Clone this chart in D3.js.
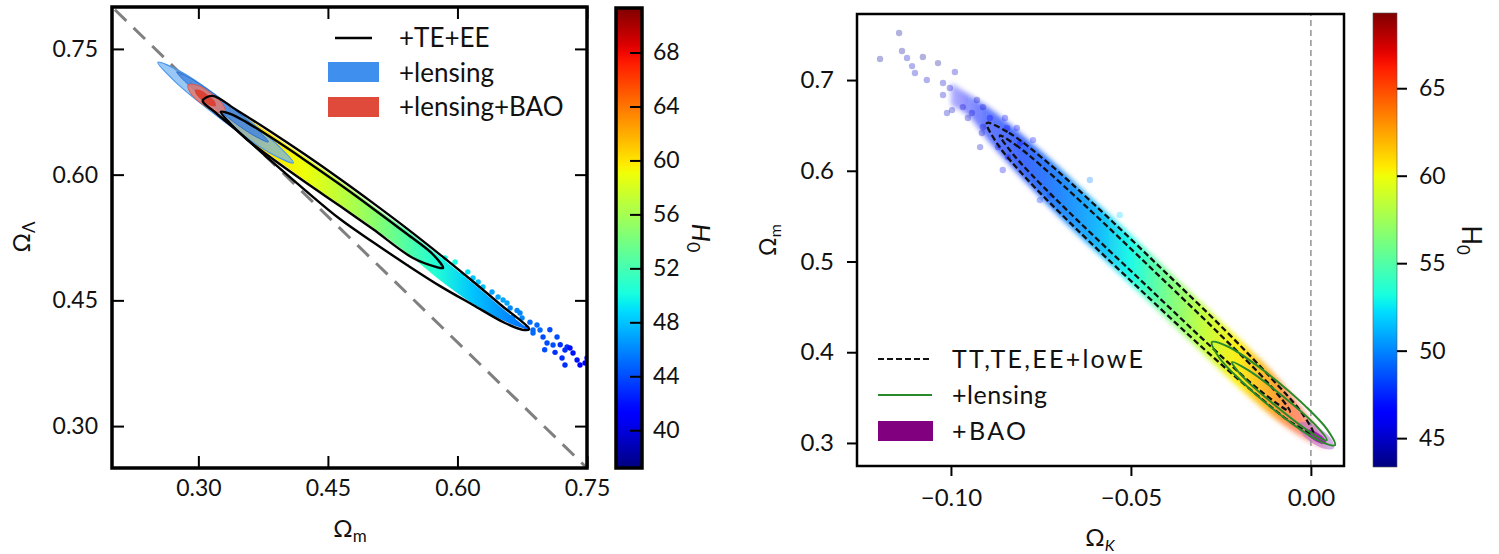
<!DOCTYPE html>
<html><head><meta charset="utf-8">
<script src="https://cdn.jsdelivr.net/npm/d3@7"></script>
<style>
body{margin:0;background:#fff}
svg{display:block}
text{font-family:Lato,"DejaVu Sans",sans-serif;fill:#111}
</style>
</head><body>
<svg id="chart" width="1499" height="554"></svg>
<script>
// ================= DATA =================
// ---- left panel ----
const leftXTicks = [0.30, 0.45, 0.60, 0.75];
const leftYTicks = [0.30, 0.45, 0.60, 0.75];
const leftCbarTicks = [40, 44, 48, 52, 56, 60, 64, 68];
const leftLegend = ["+TE+EE", "+lensing", "+lensing+BAO"];
const flatLine = [[0.20, 0.80], [0.75, 0.25]];   // Omega_L = 1 - Omega_m

// +TE+EE contours (Omega_m, Omega_L)
const teeeOuter95 = [[0.305,0.688],[0.316,0.694],[0.345,0.6766],[0.383,0.6517],[0.4235,0.6239],[0.464,0.5948],[0.502,0.5663],[0.5416,0.5356],[0.5798,0.5046],[0.618,0.4725],[0.6493,0.4454],[0.6829,0.4154],[0.675,0.415],[0.655,0.423],[0.618,0.4445],[0.580,0.467],[0.542,0.492],[0.502,0.5196],[0.464,0.547],[0.4235,0.5815],[0.383,0.6175],[0.348,0.6497],[0.319,0.6747]];
const teeeInner68 = [[0.326,0.675],[0.337,0.6725],[0.355,0.663],[0.383,0.6451],[0.4235,0.6173],[0.464,0.5882],[0.502,0.5597],[0.5416,0.5291],[0.5717,0.5047],[0.5833,0.4886],[0.575,0.490],[0.5485,0.5005],[0.502,0.5351],[0.464,0.5626],[0.4235,0.5912],[0.383,0.621],[0.355,0.643],[0.337,0.661]];
// +lensing and +lensing+BAO filled contours
const lensOuter95 = [[0.253,0.734],[0.281,0.722],[0.337,0.682],[0.390,0.637],[0.410,0.614],[0.382,0.6265],[0.326,0.6665],[0.273,0.711]];
const lensInner68 = [[0.275,0.7225],[0.294,0.713],[0.332,0.6855],[0.367,0.655],[0.381,0.639],[0.362,0.648],[0.3245,0.676],[0.289,0.7066]];
const baoOuter95 = [[0.288,0.707],[0.298,0.707],[0.314,0.6976],[0.328,0.6844],[0.331,0.6747],[0.321,0.6747],[0.3047,0.684],[0.291,0.697]];
const baoInner68 = [[0.296,0.701],[0.302,0.701],[0.311,0.695],[0.319,0.6875],[0.320,0.682],[0.315,0.682],[0.3055,0.6876],[0.298,0.695]];
// dense sample band coloured by H0
const leftBandOm    = [0.335, 0.36, 0.383, 0.4235, 0.464, 0.502, 0.542, 0.575, 0.618, 0.649, 0.672, 0.683];
const leftBandUpper = [0.682, 0.665, 0.649, 0.621, 0.592, 0.563, 0.533, 0.506, 0.470, 0.443, 0.424, 0.4154];
const leftBandLower = [0.666, 0.640, 0.623, 0.593, 0.564, 0.537, 0.506, 0.478, 0.446, 0.428, 0.418, 0.4154];
const leftBandH0    = [62, 61, 60, 59, 57, 55, 52.5, 50.5, 48, 46.5, 45.5, 45];
// sparse samples in the tail
const leftPtsM = [0.5856,0.5972,0.618,0.6296,0.6528,0.6574,0.6643,0.6724,0.6748,0.6805,0.6875,0.6875,0.6921,0.6956,0.6991,0.7037,0.7107,0.7153,0.7211,0.7245,0.7245,0.7269,0.7303,0.7338,0.7385,0.7419,0.7477,0.750,0.647,0.640,0.624,0.605,0.612,0.707,0.701,0.713,0.719,0.684,0.669,0.661];
const leftPtsL = [0.5006,0.4958,0.4767,0.466,0.4504,0.4469,0.4302,0.4349,0.429,0.417,0.4147,0.4111,0.4206,0.4147,0.4063,0.3991,0.3968,0.4063,0.3812,0.3908,0.3729,0.3944,0.3932,0.3872,0.3789,0.3729,0.3753,0.3812,0.454,0.46,0.472,0.48,0.484,0.415,0.391,0.388,0.397,0.424,0.438,0.441];
const leftPtsH0 = [50,50,48,48,47,47,46,46,46,45,45,45,45,45,44,44,44,44,43,43,43,43,42,42,42,41,41,41,47,47,48,49,49,44,44,43,43,45,46,46];

// ---- right panel ----
const rightXTicks = [-0.10, -0.05, 0.00];
const rightYTicks = [0.3, 0.4, 0.5, 0.6, 0.7];
const rightCbarTicks = [45, 50, 55, 60, 65];
const rightLegend = ["TT,TE,EE+lowE", "+lensing", "+BAO"];
const flatK = [[0, 0.2746], [0, 0.7728]];   // Omega_K = 0

const ttOuter95 = [[-0.090,0.6526],[-0.0839,0.6419],[-0.0739,0.6117],[-0.0600,0.5621],[-0.0419,0.4937],[-0.0239,0.4245],[-0.0109,0.3709],[-0.0026,0.3335],[0.0006,0.3108],[-0.0053,0.3223],[-0.0151,0.3533],[-0.0293,0.4022],[-0.0476,0.4697],[-0.0657,0.538],[-0.0789,0.591],[-0.087,0.6291]];
const ttInner68 = [[-0.0864,0.6389],[-0.082,0.6284],[-0.0752,0.6065],[-0.0613,0.5564],[-0.0432,0.4881],[-0.0252,0.4193],[-0.012,0.3665],[-0.0058,0.3347],[-0.0141,0.3577],[-0.0281,0.4074],[-0.0462,0.4753],[-0.0644,0.5437],[-0.0777,0.5961],[-0.0835,0.622]];
const lensROuter = [[-0.0275,0.4111],[-0.0228,0.4058],[-0.0153,0.3863],[-0.0083,0.3645],[-0.0016,0.3409],[0.0045,0.315],[0.0067,0.2976],[0.002,0.3029],[-0.0056,0.3224],[-0.0126,0.3442],[-0.0192,0.3678],[-0.0254,0.3937]];
const lensRInner = [[-0.0219,0.3891],[-0.0172,0.3798],[-0.0077,0.3512],[0.0013,0.3196],[0.0044,0.3031],[-0.0003,0.3123],[-0.0098,0.341],[-0.0188,0.3725]];
const baoROuter = [[-0.0036,0.3218],[-0.0012,0.3228],[0.0027,0.3153],[0.0058,0.3035],[0.0064,0.2943],[0.004,0.2933],[0.0001,0.3008],[-0.003,0.3126]];
const baoRInner = [[-0.0014,0.3141],[-0.0001,0.3147],[0.002,0.3107],[0.0038,0.3046],[0.0042,0.2998],[0.0029,0.2992],[0.0008,0.3032],[-0.001,0.3093]];

const rightBandOk      = [-0.100, -0.095, -0.09, -0.08, -0.07, -0.06, -0.05, -0.04, -0.03, -0.02, -0.01, -0.005, 0.0, 0.004];
const rightBandUpper   = [0.697, 0.684, 0.671, 0.639, 0.604, 0.566, 0.529, 0.491, 0.453, 0.415, 0.375, 0.351, 0.325, 0.302];
const rightBandLower   = [0.672, 0.660, 0.635, 0.591, 0.550, 0.512, 0.475, 0.437, 0.399, 0.361, 0.327, 0.313, 0.301, 0.294];
const rightBandH0      = [46.5, 47, 47.5, 48, 49.5, 51, 53, 56, 58.5, 60.5, 63, 65, 66, 66];
const rightBandDensity = [0.3, 0.45, 0.6, 0.75, 0.85, 0.9, 0.95, 0.95, 0.95, 0.9, 0.8, 0.6, 0.45, 0.3];

const rightPtsK = [-0.1197,-0.1144,-0.1136,-0.1122,-0.1108,-0.1078,-0.1100,-0.1067,-0.1036,-0.1022,-0.1022,-0.0989,-0.1003,-0.0967,-0.0942,-0.0928,-0.0911,-0.0892,-0.0850,-0.1011,-0.0997,-0.0844,-0.0817,-0.0808,-0.0772,-0.0856,-0.0842,-0.0869,-0.0911,-0.0953,-0.0914,-0.0919,-0.0725,-0.0753,-0.0614,-0.0531];
const rightPtsM = [0.7232,0.7518,0.732,0.7243,0.7154,0.7254,0.7077,0.700,0.7187,0.6967,0.6835,0.7088,0.6912,0.6702,0.6636,0.678,0.6702,0.6581,0.6581,0.6636,0.6669,0.6471,0.6471,0.6305,0.6338,0.6008,0.6151,0.6261,0.6482,0.6581,0.6416,0.6261,0.5732,0.5677,0.5898,0.5512];
const rightPtsH0 = [44,44,44,45,45,44,45,45,44,45,45,45,45,45,45,45,45,46,46,45,45,46,46,46,47,46,46,46,45,45,45,45,48,48,50,52];

// ================= HELPERS =================
function pw(stops, t) {
  for (let i = 1; i < stops.length; i++) {
    if (t <= stops[i][0]) {
      const [t0, v0] = stops[i-1], [t1, v1] = stops[i];
      return v0 + (v1 - v0) * (t - t0) / (t1 - t0);
    }
  }
  return stops[stops.length-1][1];
}
function jet(t) {
  t = Math.max(0, Math.min(1, t));
  const r = pw([[0,0],[0.35,0],[0.66,1],[0.89,1],[1,0.5]], t);
  const g = pw([[0,0],[0.125,0],[0.375,1],[0.64,1],[0.91,0],[1,0]], t);
  const b = pw([[0,0.5],[0.11,1],[0.34,1],[0.65,0],[1,0]], t);
  return d3.rgb(r*255, g*255, b*255).formatHex();
}

const svg = d3.select("#chart");
const defs = svg.append("defs");

function hGrad(id, x1, x2, stops) {
  const g = defs.append("linearGradient").attr("id", id)
    .attr("gradientUnits", "userSpaceOnUse")
    .attr("x1", x1).attr("x2", x2).attr("y1", 0).attr("y2", 0);
  stops.forEach(s => g.append("stop").attr("offset", s.o).attr("stop-color", s.c).attr("stop-opacity", s.a));
}
function vGrad(id, yBottom, yTop, cmap) {
  const g = defs.append("linearGradient").attr("id", id)
    .attr("gradientUnits", "userSpaceOnUse")
    .attr("x1", 0).attr("x2", 0).attr("y1", yBottom).attr("y2", yTop);
  d3.range(0, 1.0001, 0.02).forEach(t => g.append("stop").attr("offset", t).attr("stop-color", cmap(t)));
}
function sub(t, main, s, size, italic) {
  t.append("tspan").text(main);
  t.append("tspan").attr("font-size", size).attr("dy", "0.3em").attr("font-style", italic ? "italic" : "normal").text(s);
  return t;
}
function styleAxis(g) { g.select(".domain").remove(); g.selectAll(".tick line").attr("stroke", "#000").attr("stroke-width", 2); }

// ================= LEFT PANEL =================
const L = {x0: 112, x1: 587, y0: 7, y1: 468};
const xL = d3.scaleLinear().domain([0.20, 0.75]).range([L.x0, L.x1]);
const yL = d3.scaleLinear().domain([0.25, 0.80]).range([L.y1, L.y0]);
const cLdom = [37.2, 71.3];
const cL = d3.scaleLinear().domain(cLdom).range([468, 8]);
const colL = h => jet((h - cLdom[0]) / (cLdom[1] - cLdom[0]));

defs.append("clipPath").attr("id", "clipL").append("rect")
  .attr("x", L.x0).attr("y", L.y0).attr("width", L.x1 - L.x0).attr("height", L.y1 - L.y0);

const gL = svg.append("g").attr("clip-path", "url(#clipL)");
const lineL = d3.line().x(d => xL(d[0])).y(d => yL(d[1]));
const closedL = d3.line().x(d => xL(d[0])).y(d => yL(d[1])).curve(d3.curveCatmullRomClosed.alpha(0.5));

// flat line (under the filled contour)
gL.append("path").attr("d", lineL(flatLine)).attr("fill", "none")
  .attr("stroke", "#808080").attr("stroke-width", 3).attr("stroke-dasharray", "16,10").attr("stroke-dashoffset", -4);
// white interior of TE+EE region
gL.append("path").attr("d", closedL(teeeOuter95)).attr("fill", "#fff");

// band
const bandL = leftBandOm.map((m, i) => ({m, up: leftBandUpper[i], lo: leftBandLower[i], h: leftBandH0[i]}));
const bx0 = xL(leftBandOm[0]), bx1 = xL(leftBandOm[leftBandOm.length-1]);
hGrad("gradBandL", bx0, bx1, bandL.map(d => ({o: (xL(d.m) - bx0) / (bx1 - bx0), c: colL(d.h), a: 1})));
gL.append("path")
  .attr("d", d3.area().x(d => xL(d.m)).y0(d => yL(d.lo)).y1(d => yL(d.up)).curve(d3.curveMonotoneX)(bandL))
  .attr("fill", "url(#gradBandL)");

// tail points
gL.append("g").selectAll("circle").data(leftPtsM.map((m, i) => [m, leftPtsL[i], leftPtsH0[i]]))
  .join("circle").attr("cx", d => xL(d[0])).attr("cy", d => yL(d[1])).attr("r", 2.7)
  .attr("fill", d => colL(d[2]));

// lensing contours (blue) and lensing+BAO (red)
gL.append("path").attr("d", closedL(lensOuter95)).attr("fill", "#6fb0f2").attr("fill-opacity", 0.7)
  .attr("stroke", "#4d97ea").attr("stroke-width", 1.2);
gL.append("path").attr("d", closedL(lensInner68)).attr("fill", "#3a80e0").attr("fill-opacity", 0.75)
  .attr("stroke", "#2f6fd0").attr("stroke-width", 1);
gL.append("path").attr("d", closedL(baoOuter95)).attr("fill", "#e27a70").attr("fill-opacity", 0.85)
  .attr("stroke", "#d85a50").attr("stroke-width", 1);
gL.append("path").attr("d", closedL(baoInner68)).attr("fill", "#dc3c2c").attr("fill-opacity", 0.9);

// TE+EE contour lines
[teeeOuter95, teeeInner68].forEach(c => gL.append("path").attr("d", closedL(c))
  .attr("fill", "none").attr("stroke", "#000").attr("stroke-width", 2.4));

// axes (inward ticks on all sides)
svg.append("g").attr("transform", `translate(0,${L.y1})`)
  .call(d3.axisBottom(xL).tickValues(leftXTicks).tickFormat(d3.format(".2f")).tickSize(-12).tickPadding(12))
  .call(styleAxis).selectAll("text").attr("font-size", 23).attr("font-family", "Lato").attr("fill", "#111");
svg.append("g").attr("transform", `translate(0,${L.y0})`)
  .call(d3.axisTop(xL).tickValues(leftXTicks).tickFormat("").tickSize(-12)).call(styleAxis);
svg.append("g").attr("transform", `translate(${L.x0},0)`)
  .call(d3.axisLeft(yL).tickValues(leftYTicks).tickFormat(d3.format(".2f")).tickSize(-12).tickPadding(14))
  .call(styleAxis).selectAll("text").attr("font-size", 23).attr("font-family", "Lato").attr("fill", "#111");
svg.append("g").attr("transform", `translate(${L.x1},0)`)
  .call(d3.axisRight(yL).tickValues(leftYTicks).tickFormat("").tickSize(-12)).call(styleAxis);
svg.append("rect").attr("x", L.x0).attr("y", L.y0).attr("width", L.x1 - L.x0).attr("height", L.y1 - L.y0)
  .attr("fill", "none").attr("stroke", "#000").attr("stroke-width", 3.5);

// legend
svg.append("line").attr("x1", 335).attr("x2", 372).attr("y1", 38).attr("y2", 38).attr("stroke", "#000").attr("stroke-width", 2.5);
svg.append("rect").attr("x", 328).attr("y", 62).attr("width", 51).attr("height", 20).attr("fill", "#3f8fef");
svg.append("rect").attr("x", 328).attr("y", 97).attr("width", 51).attr("height", 20).attr("fill", "#e04a3a");
leftLegend.forEach((t, i) => svg.append("text").attr("x", 399).attr("y", [38, 73, 107][i]).attr("dy", "0.36em")
  .attr("font-size", 26).text(t));

// labels
sub(svg.append("text").attr("transform", "translate(30,237) rotate(-90)").attr("text-anchor", "middle").attr("font-size", 24), "Ω", "Λ", 17);
sub(svg.append("text").attr("x", 350).attr("y", 537).attr("text-anchor", "middle").attr("font-size", 24), "Ω", "m", 17);

// colorbar
const cbL = {x: 616, w: 26};
vGrad("cbarL", 468, 8, jet);
svg.append("rect").attr("x", cbL.x).attr("y", 8).attr("width", cbL.w).attr("height", 460).attr("fill", "url(#cbarL)");
svg.append("g").attr("transform", `translate(${cbL.x + cbL.w},0)`)
  .call(d3.axisRight(cL).tickValues(leftCbarTicks).tickSize(-12).tickPadding(11))
  .call(styleAxis).selectAll("text").attr("font-size", 23).attr("font-family", "Lato").attr("fill", "#111");
svg.append("rect").attr("x", cbL.x).attr("y", 8).attr("width", cbL.w).attr("height", 460)
  .attr("fill", "none").attr("stroke", "#000").attr("stroke-width", 3.5);
sub(svg.append("text").attr("transform", "translate(692,238) rotate(90)").attr("text-anchor", "middle").attr("font-size", 26)
  .attr("font-style", "italic"), "H", "0", 18);

// ================= RIGHT PANEL =================
const R = {x0: 857, x1: 1344, y0: 14, y1: 466};
const xR = d3.scaleLinear().domain([-0.1261, 0.0092]).range([R.x0, R.x1]);
const yR = d3.scaleLinear().domain([0.2746, 0.7728]).range([R.y1, R.y0]);
const cRdom = [43.35, 69.3];
const cR = d3.scaleLinear().domain(cRdom).range([467, 13]);
const colR = h => jet((h - cRdom[0]) / (cRdom[1] - cRdom[0]));

defs.append("clipPath").attr("id", "clipR").append("rect")
  .attr("x", R.x0).attr("y", R.y0).attr("width", R.x1 - R.x0).attr("height", R.y1 - R.y0);
const gR = svg.append("g").attr("clip-path", "url(#clipR)");
const lineR = d3.line().x(d => xR(d[0])).y(d => yR(d[1]));
const closedR = d3.line().x(d => xR(d[0])).y(d => yR(d[1])).curve(d3.curveCatmullRomClosed.alpha(0.5));

// soft band
const blur = defs.append("filter").attr("id", "soft").attr("x", "-10%").attr("y", "-10%").attr("width", "120%").attr("height", "120%");
blur.append("feGaussianBlur").attr("stdDeviation", 2.5);
const bandR = rightBandOk.map((k, i) => ({k, up: rightBandUpper[i], lo: rightBandLower[i], h: rightBandH0[i], a: rightBandDensity[i]}));
const rx0 = xR(rightBandOk[0]), rx1 = xR(rightBandOk[rightBandOk.length-1]);
hGrad("gradBandR", rx0, rx1, bandR.map(d => ({o: (xR(d.k) - rx0) / (rx1 - rx0), c: colR(d.h), a: d.a})));
gR.append("path")
  .attr("d", d3.area().x(d => xR(d.k)).y0(d => yR(d.lo)).y1(d => yR(d.up)).curve(d3.curveMonotoneX)(bandR))
  .attr("fill", "url(#gradBandR)").attr("filter", "url(#soft)");

// sparse faint points
gR.append("g").selectAll("circle").data(rightPtsK.map((k, i) => [k, rightPtsM[i], rightPtsH0[i]]))
  .join("circle").attr("cx", d => xR(d[0])).attr("cy", d => yR(d[1])).attr("r", 3.2)
  .attr("fill", d => colR(d[2])).attr("fill-opacity", 0.3);

// Omega_K = 0
gR.append("path").attr("d", lineR(flatK)).attr("stroke", "#999").attr("stroke-width", 1.6)
  .attr("stroke-dasharray", "6,4").attr("fill", "none");

// BAO filled
gR.append("path").attr("d", closedR(baoROuter)).attr("fill", "#b070d0").attr("fill-opacity", 0.55);
gR.append("path").attr("d", closedR(baoRInner)).attr("fill", "#a010b0").attr("fill-opacity", 0.85);

// TT,TE,EE+lowE dashed contours
[ttOuter95, ttInner68].forEach(c => gR.append("path").attr("d", closedR(c)).attr("fill", "none")
  .attr("stroke", "#111").attr("stroke-width", 2.3).attr("stroke-dasharray", "6,3"));
// lensing contours (green)
[lensROuter, lensRInner].forEach(c => gR.append("path").attr("d", closedR(c)).attr("fill", "none")
  .attr("stroke", "#2a8a2a").attr("stroke-width", 2));

// axes (outward, left & bottom)
svg.append("g").attr("transform", `translate(0,${R.y1})`)
  .call(d3.axisBottom(xR).tickValues(rightXTicks).tickFormat(d3.format(".2f")).tickSize(10).tickPadding(13))
  .call(styleAxis).selectAll("text").attr("font-size", 24).attr("font-family", "Lato").attr("fill", "#222");
svg.append("g").attr("transform", `translate(${R.x0},0)`)
  .call(d3.axisLeft(yR).tickValues(rightYTicks).tickFormat(d3.format(".1f")).tickSize(10).tickPadding(13))
  .call(styleAxis).selectAll("text").attr("font-size", 24).attr("font-family", "Lato").attr("fill", "#222");
svg.append("rect").attr("x", R.x0).attr("y", R.y0).attr("width", R.x1 - R.x0).attr("height", R.y1 - R.y0)
  .attr("fill", "none").attr("stroke", "#000").attr("stroke-width", 2.5);

// legend
svg.append("line").attr("x1", 878).attr("x2", 932).attr("y1", 359).attr("y2", 359).attr("stroke", "#111")
  .attr("stroke-width", 2).attr("stroke-dasharray", "6,3");
svg.append("line").attr("x1", 878).attr("x2", 932).attr("y1", 395).attr("y2", 395).attr("stroke", "#2a8a2a").attr("stroke-width", 2.2);
svg.append("rect").attr("x", 878).attr("y", 421).attr("width", 55).attr("height", 20).attr("fill", "#800080");
const legLens = [191, 95, 74];
rightLegend.forEach((t, i) => svg.append("text").attr("x", 952).attr("y", [359, 395, 431][i]).attr("dy", "0.36em")
  .attr("font-size", 25).attr("fill", "#222").attr("textLength", legLens[i]).attr("lengthAdjust", "spacing").text(t));

// labels
sub(svg.append("text").attr("transform", "translate(776,240) rotate(-90)").attr("text-anchor", "middle").attr("font-size", 23), "Ω", "m", 16);
sub(svg.append("text").attr("x", 1100).attr("y", 546).attr("text-anchor", "middle").attr("font-size", 24), "Ω", "K", 16, true);

// colorbar
const cbR = {x: 1373, w: 24};
vGrad("cbarR", 467, 13, jet);
svg.append("rect").attr("x", cbR.x).attr("y", 13).attr("width", cbR.w).attr("height", 454)
  .attr("fill", "url(#cbarR)").attr("stroke", "#555").attr("stroke-width", 0.6);
svg.append("g").attr("transform", `translate(${cbR.x + cbR.w},0)`)
  .call(d3.axisRight(cR).tickValues(rightCbarTicks).tickSize(10).tickPadding(12))
  .call(styleAxis).selectAll("text").attr("font-size", 23).attr("font-family", "Lato").attr("fill", "#222");
sub(svg.append("text").attr("transform", "translate(1462,240) rotate(90)").attr("text-anchor", "middle").attr("font-size", 26), "H", "0", 17);
</script>
</body></html>
